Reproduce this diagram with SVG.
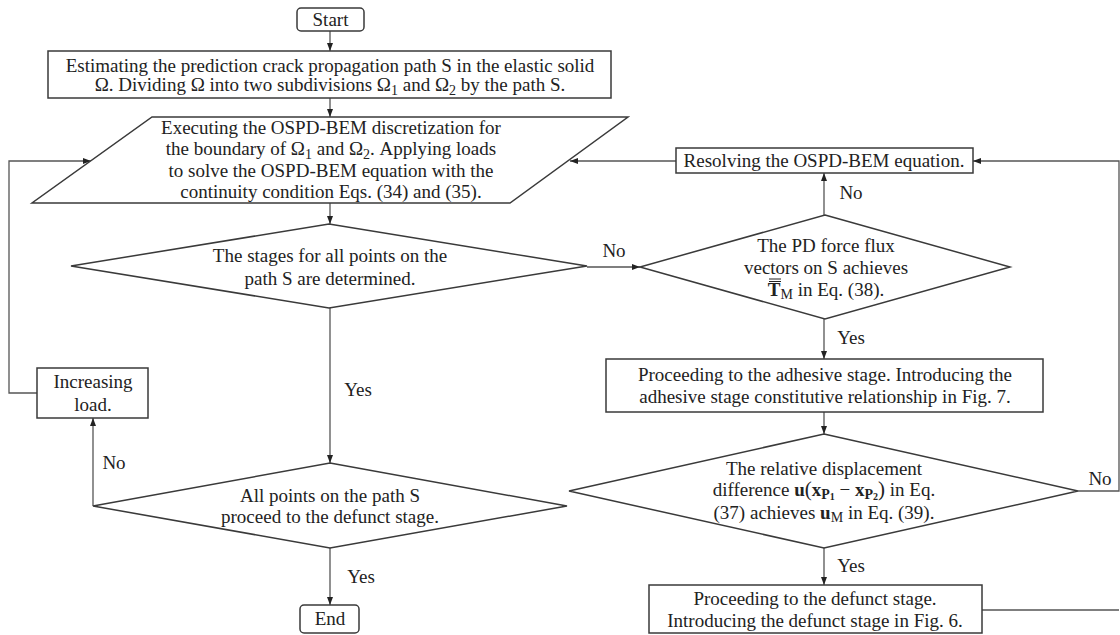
<svg xmlns="http://www.w3.org/2000/svg" width="1120" height="635" viewBox="0 0 1120 635">
<style>
.node{fill:#fff;stroke:#3a3a3a;stroke-width:1.5}
.t{font-family:"Liberation Serif","Times New Roman",serif;font-size:19px;fill:#222;text-anchor:middle}
.b{font-weight:bold}
.s{font-size:14px}
.ss{font-size:10px}
.conn path{fill:none;stroke:#555;stroke-width:1.3}
.ol{stroke:#222;stroke-width:1}
</style>
<defs>
<marker id="ah" markerUnits="userSpaceOnUse" markerWidth="8" markerHeight="6" refX="8" refY="3" orient="auto">
<path d="M0,0 L8,3 L0,6 z" fill="#222"/>
</marker>
</defs>
<rect width="1120" height="635" fill="#fff"/>

<g class="conn">
<path d="M330,31 V51" marker-end="url(#ah)"/>
<path d="M330,98 V117" marker-end="url(#ah)"/>
<path d="M330,203 V224" marker-end="url(#ah)"/>
<path d="M330,308 V463" marker-end="url(#ah)"/>
<path d="M330,548 V605" marker-end="url(#ah)"/>
<path d="M93,506 V418" marker-end="url(#ah)"/>
<path d="M37,393 H9 V161 H91" marker-end="url(#ah)"/>
<path d="M587,267 H640" marker-end="url(#ah)"/>
<path d="M824,215 V173" marker-end="url(#ah)"/>
<path d="M676,161 H570" marker-end="url(#ah)"/>
<path d="M824,319 V359" marker-end="url(#ah)"/>
<path d="M824,412 V434" marker-end="url(#ah)"/>
<path d="M824,548 V585" marker-end="url(#ah)"/>
<path d="M1078,491 H1119 V161 H973" marker-end="url(#ah)"/>
<path d="M982,610 H1119"/>
<text class="t" x="851" y="199">No</text>
<text class="t" x="614" y="257">No</text>
<text class="t" x="851" y="344">Yes</text>
<text class="t" x="358" y="396">Yes</text>
<text class="t" x="114" y="469">No</text>
<text class="t" x="361" y="583">Yes</text>
<text class="t" x="1100" y="485">No</text>
<text class="t" x="851" y="572">Yes</text>
</g>

<g id="start">
<rect class="node" x="297" y="8" width="67" height="23" rx="4"/>
<text class="t" x="330.5" y="26">Start</text>
</g>

<g id="estimate">
<rect class="node" x="48" y="51" width="563" height="47"/>
<text class="t" x="330" y="72">Estimating the prediction crack propagation path S in the elastic solid</text>
<text class="t" x="330" y="91">Ω. Dividing Ω into two subdivisions Ω<tspan class="s" dy="4">1</tspan><tspan dy="-4"> and Ω</tspan><tspan class="s" dy="4">2</tspan><tspan dy="-4"> by the path S.</tspan></text>
</g>

<g id="execute">
<polygon class="node" points="152,117 628,117 510,203 32,203"/>
<text class="t" x="331" y="134">Executing the OSPD-BEM discretization for</text>
<text class="t" x="331" y="155">the boundary of Ω<tspan class="s" dy="4">1</tspan><tspan dy="-4"> and Ω</tspan><tspan class="s" dy="4">2</tspan><tspan dy="-4">. Applying loads</tspan></text>
<text class="t" x="331" y="177">to solve the OSPD-BEM equation with the</text>
<text class="t" x="331" y="198">continuity condition Eqs. (34) and (35).</text>
</g>

<g id="resolve">
<rect class="node" x="676" y="148" width="297" height="25"/>
<text class="t" x="824" y="167">Resolving the OSPD-BEM equation.</text>
</g>

<g id="stages">
<polygon class="node" points="329,224 587,266 329,308 71,266"/>
<text class="t" x="330" y="262">The stages for all points on the</text>
<text class="t" x="330" y="285">path S are determined.</text>
</g>

<g id="pd">
<polygon class="node" points="825,215 1010,267 825,319 640,267"/>
<text class="t" x="826" y="252">The PD force flux</text>
<text class="t" x="826" y="274">vectors on S achieves</text>
<text class="t" x="826" y="296"><tspan class="b">T</tspan><tspan class="s" dy="3">M</tspan><tspan dy="-3"> in Eq. (38).</tspan></text>
<line class="ol" x1="769" y1="279" x2="781" y2="279"/>
<line class="ol" x1="769" y1="281.5" x2="781" y2="281.5"/>
</g>

<g id="adhesive">
<rect class="node" x="606" y="359" width="437" height="53"/>
<text class="t" x="825" y="381">Proceeding to the adhesive stage. Introducing the</text>
<text class="t" x="825" y="403">adhesive stage constitutive relationship in Fig. 7.</text>
</g>

<g id="relative">
<polygon class="node" points="824,434 1078,491 824,548 569,491"/>
<text class="t" x="824" y="475">The relative displacement</text>
<text class="t" x="824" y="496">difference <tspan class="b">u</tspan><tspan font-size="21">(</tspan><tspan class="b">x</tspan><tspan class="s b" dy="2.5">P</tspan><tspan class="ss b" dy="1.5">1</tspan><tspan dy="-4"> − </tspan><tspan class="b">x</tspan><tspan class="s b" dy="2.5">P</tspan><tspan class="ss b" dy="1.5">2</tspan><tspan font-size="21" dy="-4">)</tspan> in Eq.</text>
<text class="t" x="824" y="519">(37) achieves <tspan class="b">u</tspan><tspan class="s" dy="3">M</tspan><tspan dy="-3"> in Eq. (39).</tspan></text>
</g>

<g id="defunct">
<rect class="node" x="649" y="585" width="333" height="48"/>
<text class="t" x="815" y="605">Proceeding to the defunct stage.</text>
<text class="t" x="815" y="627">Introducing the defunct stage in Fig. 6.</text>
</g>

<g id="allpoints">
<polygon class="node" points="330,463 567,506 330,548 93,506"/>
<text class="t" x="330" y="502">All points on the path S</text>
<text class="t" x="330" y="523">proceed to the defunct stage.</text>
</g>

<g id="increase">
<rect class="node" x="37" y="368" width="111" height="50"/>
<text class="t" x="93" y="388">Increasing</text>
<text class="t" x="93" y="411">load.</text>
</g>

<g id="end">
<rect class="node" x="300" y="605" width="59" height="28" rx="4"/>
<text class="t" x="330" y="625">End</text>
</g>
</svg>
